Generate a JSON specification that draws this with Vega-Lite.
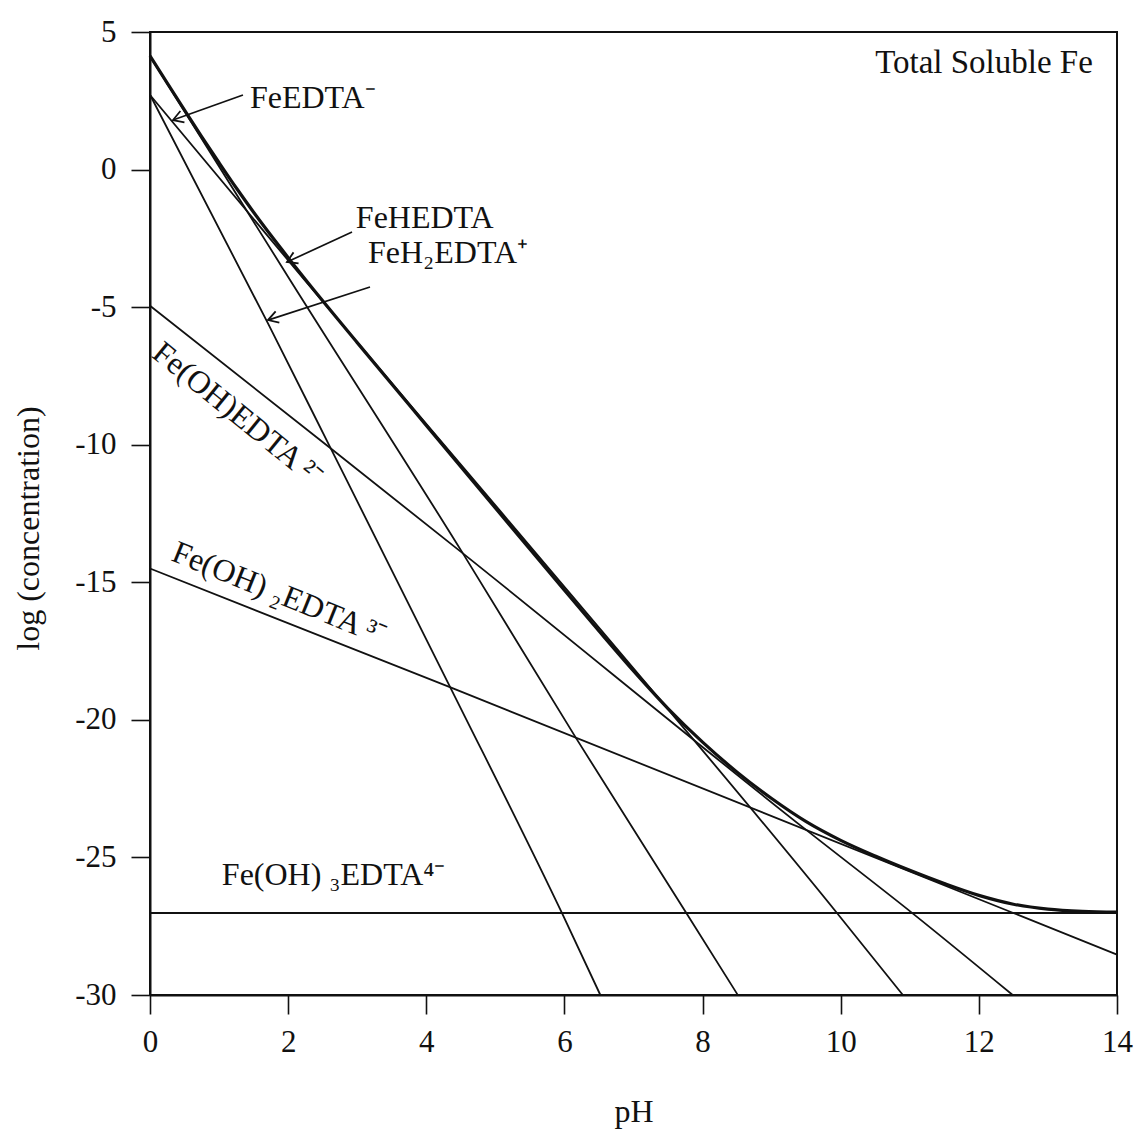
{
  "$schema": "https://vega.github.io/schema/vega-lite/v6.json",
  "width": 967,
  "height": 963,
  "autosize": {"type": "none"},
  "padding": {"left": 150, "top": 32, "right": 20, "bottom": 134},
  "background": "white",
  "config": {
    "view": {"stroke": "#111111", "strokeWidth": 2},
    "font": "Liberation Serif",
    "axis": {
      "grid": false,
      "domainColor": "#111111",
      "domainWidth": 2,
      "tickColor": "#111111",
      "tickWidth": 1.6,
      "tickSize": 19,
      "labelFlush": false,
      "labelFont": "Liberation Serif",
      "labelFontSize": 31,
      "labelColor": "#111111",
      "titleFont": "Liberation Serif",
      "titleFontSize": 32,
      "titleFontWeight": "normal",
      "titleColor": "#111111"
    }
  },
  "datasets": {
    "species": [
      {"name": "FeH2EDTA+", "pH": 0, "logc": 2.72},
      {"name": "FeH2EDTA+", "pH": 1.71, "logc": -5.6},
      {"name": "FeH2EDTA+", "pH": 2.6, "logc": -10.05},
      {"name": "FeH2EDTA+", "pH": 4.36, "logc": -18.88},
      {"name": "FeH2EDTA+", "pH": 5.96, "logc": -27.0},
      {"name": "FeH2EDTA+", "pH": 6.52, "logc": -30},
      {"name": "FeHEDTA", "pH": 0, "logc": 4.12},
      {"name": "FeHEDTA", "pH": 2.03, "logc": -4.02},
      {"name": "FeHEDTA", "pH": 4.53, "logc": -13.95},
      {"name": "FeHEDTA", "pH": 6.18, "logc": -20.71},
      {"name": "FeHEDTA", "pH": 7.76, "logc": -27.0},
      {"name": "FeHEDTA", "pH": 8.51, "logc": -30},
      {"name": "FeEDTA-", "pH": 0, "logc": 2.71},
      {"name": "FeEDTA-", "pH": 2.24, "logc": -4.02},
      {"name": "FeEDTA-", "pH": 5.06, "logc": -12.38},
      {"name": "FeEDTA-", "pH": 9.94, "logc": -27.0},
      {"name": "FeEDTA-", "pH": 10.9, "logc": -30},
      {"name": "Fe(OH)EDTA2-", "pH": 0, "logc": -4.95},
      {"name": "Fe(OH)EDTA2-", "pH": 2.6, "logc": -10.1},
      {"name": "Fe(OH)EDTA2-", "pH": 4.53, "logc": -13.95},
      {"name": "Fe(OH)EDTA2-", "pH": 9.5, "logc": -24.0},
      {"name": "Fe(OH)EDTA2-", "pH": 11.05, "logc": -27.05},
      {"name": "Fe(OH)EDTA2-", "pH": 12.49, "logc": -30},
      {"name": "Fe(OH)2EDTA3-", "pH": 0, "logc": -14.5},
      {"name": "Fe(OH)2EDTA3-", "pH": 4.36, "logc": -18.83},
      {"name": "Fe(OH)2EDTA3-", "pH": 14, "logc": -28.53},
      {"name": "Fe(OH)3EDTA4-", "pH": 0, "logc": -27.02},
      {"name": "Fe(OH)3EDTA4-", "pH": 14, "logc": -27.02}
    ],
    "total": [
      {"pH": 0, "logc": 4.13},
      {"pH": 0.25, "logc": 3.14},
      {"pH": 0.5, "logc": 2.16},
      {"pH": 0.75, "logc": 1.19},
      {"pH": 1.0, "logc": 0.25},
      {"pH": 1.25, "logc": -0.67},
      {"pH": 1.5, "logc": -1.55},
      {"pH": 1.75, "logc": -2.39},
      {"pH": 2.0, "logc": -3.2},
      {"pH": 2.5, "logc": -4.77},
      {"pH": 3.0, "logc": -6.29},
      {"pH": 4.0, "logc": -9.3},
      {"pH": 5.0, "logc": -12.3},
      {"pH": 6.0, "logc": -15.29},
      {"pH": 6.5, "logc": -16.77},
      {"pH": 7.0, "logc": -18.22},
      {"pH": 7.5, "logc": -19.59},
      {"pH": 8.0, "logc": -20.81},
      {"pH": 8.5, "logc": -21.9},
      {"pH": 9.0, "logc": -22.86},
      {"pH": 9.5, "logc": -23.7},
      {"pH": 10.0, "logc": -24.38},
      {"pH": 10.5, "logc": -24.95},
      {"pH": 11.0, "logc": -25.47},
      {"pH": 11.5, "logc": -25.95},
      {"pH": 12.0, "logc": -26.38},
      {"pH": 12.5, "logc": -26.7},
      {"pH": 13.0, "logc": -26.88},
      {"pH": 13.5, "logc": -26.96},
      {"pH": 14.0, "logc": -26.99}
    ],
    "arrows": [
      {"name": "FeEDTA-", "end": "tail", "pH": 1.346, "logc": 2.71},
      {"name": "FeEDTA-", "end": "tip", "pH": 0.333, "logc": 1.8},
      {"name": "FeHEDTA", "end": "tail", "pH": 2.925, "logc": -2.27},
      {"name": "FeHEDTA", "end": "tip", "pH": 1.983, "logc": -3.36},
      {"name": "FeH2EDTA+", "end": "tail", "pH": 3.185, "logc": -4.27},
      {"name": "FeH2EDTA+", "end": "tip", "pH": 1.708, "logc": -5.47}
    ],
    "labels": [
      {"group": "left", "text": "FeEDTA⁻", "pH": 1.447, "logc": 2.24},
      {"group": "left", "text": "FeHEDTA", "pH": 2.98, "logc": -2.12},
      {"group": "left", "text": "FeH₂EDTA⁺", "pH": 3.156, "logc": -3.4},
      {"group": "left", "text": "Fe(OH) ₃EDTA⁴⁻", "pH": 1.04, "logc": -26.0},
      {"group": "right", "text": "Total Soluble Fe", "pH": 13.65, "logc": 3.51},
      {"group": "rot39", "text": "Fe(OH)EDTA ²⁻", "pH": 1.274, "logc": -8.89},
      {"group": "rot22", "text": "Fe(OH) ₂EDTA ³⁻", "pH": 1.875, "logc": -15.41}
    ]
  },
  "encoding": {
    "x": {
      "field": "pH",
      "type": "quantitative",
      "scale": {"domain": [0, 14], "nice": false, "zero": false},
      "axis": {
        "title": "pH",
        "values": [0, 2, 4, 6, 8, 10, 12, 14],
        "labelPadding": 13,
        "titleY": 126,
        "titleBaseline": "alphabetic"
      }
    },
    "y": {
      "field": "logc",
      "type": "quantitative",
      "scale": {"domain": [-30, 5], "nice": false, "zero": false},
      "axis": {
        "title": "log (concentration)",
        "values": [5, 0, -5, -10, -15, -20, -25, -30],
        "labelExpr": "'' + datum.value",
        "labelPadding": 15,
        "titleX": -122,
        "titleY": 496,
        "titleAngle": -90,
        "titleAlign": "center",
        "titleBaseline": "middle"
      }
    }
  },
  "layer": [
    {
      "data": {"name": "species"},
      "mark": {"type": "line", "color": "#111111", "strokeWidth": 1.8, "interpolate": "monotone"},
      "encoding": {"detail": {"field": "name"}}
    },
    {
      "data": {"name": "total"},
      "mark": {"type": "line", "color": "#111111", "strokeWidth": 3.2, "interpolate": "monotone"},
      "encoding": {}
    },
    {
      "data": {"name": "arrows"},
      "mark": {"type": "line", "color": "#111111", "strokeWidth": 1.7},
      "encoding": {"detail": {"field": "name"}}
    },
    {
      "data": {"name": "arrows"},
      "transform": [{"filter": "datum.end === 'tip' && datum.name === 'FeEDTA-'"}],
      "mark": {"type": "point", "shape": "M -1 -0.6 L 0 0 L -1 0.6", "filled": false, "stroke": "#111111", "strokeWidth": 1.8, "size": 400, "angle": 160.3, "opacity": 1},
      "encoding": {}
    },
    {
      "data": {"name": "arrows"},
      "transform": [{"filter": "datum.end === 'tip' && datum.name === 'FeHEDTA'"}],
      "mark": {"type": "point", "shape": "M -1 -0.6 L 0 0 L -1 0.6", "filled": false, "stroke": "#111111", "strokeWidth": 1.8, "size": 400, "angle": 155.2, "opacity": 1},
      "encoding": {}
    },
    {
      "data": {"name": "arrows"},
      "transform": [{"filter": "datum.end === 'tip' && datum.name === 'FeH2EDTA+'"}],
      "mark": {"type": "point", "shape": "M -1 -0.6 L 0 0 L -1 0.6", "filled": false, "stroke": "#111111", "strokeWidth": 1.8, "size": 400, "angle": 162.1, "opacity": 1},
      "encoding": {}
    },
    {
      "data": {"name": "labels"},
      "transform": [{"filter": "datum.group === 'left'"}],
      "mark": {"type": "text", "align": "left", "baseline": "alphabetic", "fontSize": 32, "font": "Liberation Serif", "color": "#111111"},
      "encoding": {"text": {"field": "text"}}
    },
    {
      "data": {"name": "labels"},
      "transform": [{"filter": "datum.group === 'right'"}],
      "mark": {"type": "text", "align": "right", "baseline": "alphabetic", "fontSize": 33, "font": "Liberation Serif", "color": "#111111"},
      "encoding": {"text": {"field": "text"}}
    },
    {
      "data": {"name": "labels"},
      "transform": [{"filter": "datum.group === 'rot39'"}],
      "mark": {"type": "text", "align": "center", "baseline": "middle", "angle": 39, "fontSize": 32, "font": "Liberation Serif", "color": "#111111"},
      "encoding": {"text": {"field": "text"}}
    },
    {
      "data": {"name": "labels"},
      "transform": [{"filter": "datum.group === 'rot22'"}],
      "mark": {"type": "text", "align": "center", "baseline": "middle", "angle": 22, "fontSize": 32, "font": "Liberation Serif", "color": "#111111"},
      "encoding": {"text": {"field": "text"}}
    }
  ]
}
